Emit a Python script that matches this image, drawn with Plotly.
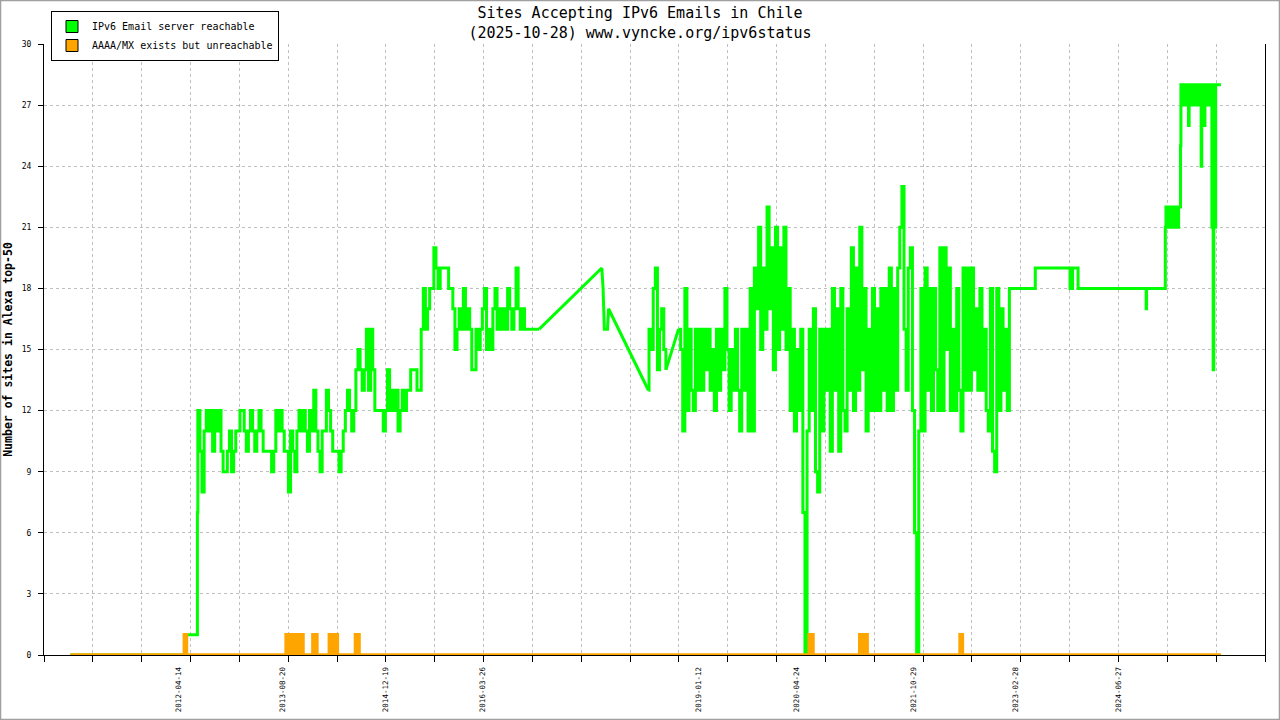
import plotly.graph_objects as go
import pandas as pd

# --- chart text ---
title_lines = ["Sites Accepting IPv6 Emails in Chile", "(2025-10-28) www.vyncke.org/ipv6status"]
y_title = "Number of sites in Alexa top-50"
series_names = ["IPv6 Email server reachable", "AAAA/MX exists but unreachable"]
label_dates = ["2012-04-14", "2013-08-20", "2014-12-19", "2016-03-26", "2019-01-12",
               "2020-04-24", "2021-10-29", "2023-02-28", "2024-06-27"]

# --- reachable (green) series ---
green_head_dates = ["2010-11-16", "2012-05-13", "2012-05-15", "2012-07-09", "2012-07-11"]
green_head_vals = [0, 0, 1, 1, 7]

# dense stretch 2012-07 .. 2016-12, one value every 10 days
green_block1_start = "2012-07-13"
green_block1_vals = [
    12, 10, 8, 11, 12, 11, 12, 10, 12, 11,
    12, 10, 9, 9, 10, 11, 9, 10, 11, 11,
    12, 12, 11, 10, 11, 12, 11, 10, 11, 12,
    11, 10, 10, 10, 10, 9, 10, 12, 11, 12,
    11, 10, 10, 8, 11, 10, 9, 11, 12, 11,
    12, 11, 10, 12, 11, 13, 11, 10, 9, 11,
    11, 13, 12, 11, 10, 10, 10, 9, 10, 11,
    12, 13, 12, 11, 12, 14, 15, 14, 13, 14,
    16, 13, 16, 14, 12, 12, 12, 12, 11, 12,
    14, 12, 13, 12, 13, 11, 12, 13, 12, 13,
    13, 14, 14, 14, 13, 13, 16, 18, 16, 17,
    18, 18, 20, 19, 18, 19, 19, 19, 19, 18,
    18, 17, 15, 16, 17, 16, 18, 16, 17, 16,
    14, 14, 16, 15, 16, 17, 18, 15, 16, 15,
    17, 18, 16, 17, 16, 17, 16, 18, 17, 16,
    17, 19, 17, 16, 17, 16, 16, 16, 16, 16,
    16, 16, 16,
]

green_gap_dates = ["2017-10-12", "2017-10-18", "2017-10-24", "2017-11-08", "2017-11-13", "2018-05-21"]
green_gap_vals = [19, 18, 16, 16, 17, 13]

green_block2_start = "2018-05-24"
green_block2_vals = [16, 15, 18, 19, 14, 16, 17, 15, 14]

green_gap2_dates = ["2018-10-11"]
green_gap2_vals = [16]

# dense stretch 2018-10 .. 2023-01, one value every 10 days
green_block3_start = "2018-10-21"
green_block3_vals = [
    15, 11, 18, 12, 16, 13, 12, 16, 13, 16,
    13, 16, 14, 16, 13, 15, 12, 16, 13, 16,
    14, 18, 15, 12, 15, 13, 16, 13, 11, 16,
    13, 16, 11, 18, 11, 19, 17, 21, 15, 19,
    16, 22, 17, 20, 14, 21, 15, 20, 16, 21,
    15, 18, 12, 16, 11, 15, 12, 16, 7, 0,
    11, 16, 12, 17, 9, 8, 16, 11, 16, 13,
    16, 10, 18, 13, 17, 10, 18, 12, 11, 17,
    13, 20, 12, 19, 13, 21, 14, 18, 11, 16,
    12, 18, 12, 17, 12, 18, 13, 18, 12, 19,
    12, 18, 13, 19, 21, 23, 16, 13, 19, 20,
    12, 6, 0, 11, 18, 11, 19, 13, 18, 12,
    18, 14, 12, 20, 12, 20, 15, 19, 12, 16,
    12, 18, 13, 11, 19, 13, 19, 13, 19, 14,
    17, 13, 18, 13, 16, 12, 11, 18, 10, 9,
    18, 12, 17, 13, 16, 12, 18,
]

green_mid_dates = ["2023-02-03", "2023-05-29", "2023-05-31", "2023-11-10", "2023-11-12",
                   "2023-11-22", "2023-11-24", "2023-12-18", "2023-12-20", "2024-11-05",
                   "2024-11-07", "2024-11-09", "2025-02-04"]
green_mid_vals = [18, 18, 19, 19, 18, 18, 19, 19, 18, 18, 17, 18, 18]

# 2025: values every 3 days
green_block4_start = "2025-02-06"
green_block4_vals = [21, 22, 21, 22, 21, 22, 21, 22, 21, 22, 21, 22,
                     21, 22, 21, 22, 21, 22, 21, 22, 21, 22, 22]

green_jump_dates = ["2025-04-17", "2025-04-19", "2025-04-21"]
green_jump_vals = [22, 25, 28]

green_block5_start = "2025-04-24"
green_block5_vals = [
    28, 27, 28, 27, 28, 27, 28, 27, 28, 27,
    27, 26,
    27, 28, 27, 28, 27, 28, 27, 28, 27, 28, 27, 28, 27, 28, 27, 28, 27, 28, 27,
    24,
    28, 27,
    26, 27, 26, 28,
    27, 28, 27, 28, 27, 28, 27, 28, 27, 28,
    21, 28, 14, 21, 28, 21,
]

green_tail_dates = ["2025-10-03", "2025-10-28"]
green_tail_vals = [28, 28]

# --- unreachable (orange) series: zero line with short spikes ---
orange_first = "2010-11-16"
orange_last = "2025-10-28"
orange_spike_start = ["2012-05-10", "2013-09-05", "2013-10-14", "2014-01-10", "2014-03-29",
                      "2014-07-31", "2020-06-22", "2021-02-17", "2022-06-08"]
orange_spike_end = ["2012-05-20", "2013-09-29", "2013-11-24", "2014-01-29", "2014-05-06",
                    "2014-08-17", "2020-07-10", "2021-03-24", "2022-06-19"]
orange_spike_height = [1, 1, 1, 1, 1, 1, 1, 1, 1]

# axis span and spacing of the unlabelled ticks
x_start = "2010-07-14"
x_end = "2026-05-25"
TICK_DAYS = 231.76

GREEN = "#00ff00"
ORANGE = "#ffa500"
GRID = "#c0c0c0"
FONT = "DejaVu Sans Mono"


def dense(start, step_days, values):
    dates = pd.date_range(start, periods=len(values), freq=f"{step_days}D")
    return list(dates.strftime("%Y-%m-%d")), list(values)


# daily samples -> drawn as steps; the gaps with no data -> straight lines
green_parts = [
    ("hv", [(green_head_dates, green_head_vals), dense(green_block1_start, 10, green_block1_vals)]),
    ("linear", [(green_gap_dates, green_gap_vals)]),
    ("hv", [dense(green_block2_start, 10, green_block2_vals)]),
    ("linear", [(green_gap2_dates, green_gap2_vals)]),
    ("hv", [dense(green_block3_start, 10, green_block3_vals),
            (green_mid_dates, green_mid_vals),
            dense(green_block4_start, 3, green_block4_vals),
            (green_jump_dates, green_jump_vals),
            dense(green_block5_start, 3, green_block5_vals),
            (green_tail_dates, green_tail_vals)]),
]

orange_x, orange_y = [orange_first], [0]
for s, e, h in zip(orange_spike_start, orange_spike_end, orange_spike_height):
    orange_x += [s, s, e, e]
    orange_y += [0, h, h, 0]
orange_x.append(orange_last)
orange_y.append(0)

fig = go.Figure()
prev = None
for shape, pieces in green_parts:
    xs, ys = [], []
    if prev is not None:
        xs.append(prev[0])
        ys.append(prev[1])
    for d, v in pieces:
        xs += d
        ys += v
    fig.add_trace(go.Scatter(x=xs, y=ys, mode="lines", showlegend=False,
                             line=dict(color=GREEN, width=3, shape=shape), hoverinfo="skip"))
    prev = (xs[-1], ys[-1])

fig.add_trace(go.Scatter(x=orange_x, y=orange_y, mode="lines", showlegend=False,
                         fill="tozeroy", fillcolor=ORANGE,
                         line=dict(color=ORANGE, width=3.5), hoverinfo="skip"))
# legend swatches
for name, col in zip(series_names, [GREEN, ORANGE]):
    fig.add_trace(go.Bar(x=[None], y=[None], name=name, marker_color=col,
                         marker_line=dict(color="black", width=1)))

W, H = 1280, 720
L, R, T, B = 44, 15, 44, 65
pw, ph = W - L - R, H - T - B

fig.update_layout(
    width=W, height=H,
    margin=dict(l=L, r=R, t=T, b=B, autoexpand=False),
    paper_bgcolor="white", plot_bgcolor="white",
    font=dict(family=FONT, color="black"),
    title=dict(text="<br>".join(title_lines), x=0.5, xref="container", xanchor="center",
               y=1 - 18 / H, yref="container", yanchor="middle",
               font=dict(family=FONT, size=15, color="black")),
    legend=dict(x=(51 - L) / pw, y=(H - B - 11) / ph, xanchor="left", yanchor="top",
                bgcolor="white", bordercolor="black", borderwidth=1,
                font=dict(family=FONT, size=10, color="black"),
                itemwidth=30, tracegroupgap=0),
    showlegend=True,
    xaxis=dict(
        type="date", range=[x_start, x_end], automargin=False,
        tickmode="array", tickvals=label_dates, ticktext=label_dates,
        tickangle=-90, ticks="", showgrid=False,
        tickfont=dict(family=FONT, size=7.5, color="black"),
        ticklabelstandoff=8,
        showline=True, linecolor="black", linewidth=1, zeroline=False,
        minor=dict(tickmode="linear", tick0=x_start, dtick=TICK_DAYS * 86400000,
                   ticks="outside", ticklen=6, tickcolor="black", tickwidth=1,
                   showgrid=True, gridcolor=GRID, griddash="dot", gridwidth=1),
    ),
    yaxis=dict(
        range=[0, 30], tickmode="linear", tick0=0, dtick=3, automargin=False,
        ticks="outside", ticklen=5, tickcolor="black",
        tickfont=dict(family=FONT, size=8, color="black"),
        ticklabelstandoff=5,
        showline=True, linecolor="black", linewidth=1, mirror=True,
        showgrid=True, gridcolor=GRID, griddash="dot", gridwidth=1, zeroline=False,
        title=dict(text="<b>" + y_title + "</b>", standoff=6,
                   font=dict(family=FONT, size=11.5, color="black")),
    ),
)

# thin grey frame round the whole picture
fig.add_shape(type="rect", xref="paper", yref="paper",
              x0=-L / pw + 0.5 / pw, x1=1 + (R - 0.5) / pw,
              y0=-B / ph + 0.5 / ph, y1=1 + (T - 0.5) / ph,
              line=dict(color="#a0a0a0", width=1.5), layer="below")

# drop the browser's default page margin so the figure sits at the top-left corner
fig.write_html("out.html", config={"displayModeBar": False},
               post_script="document.body.style.margin='0';")
